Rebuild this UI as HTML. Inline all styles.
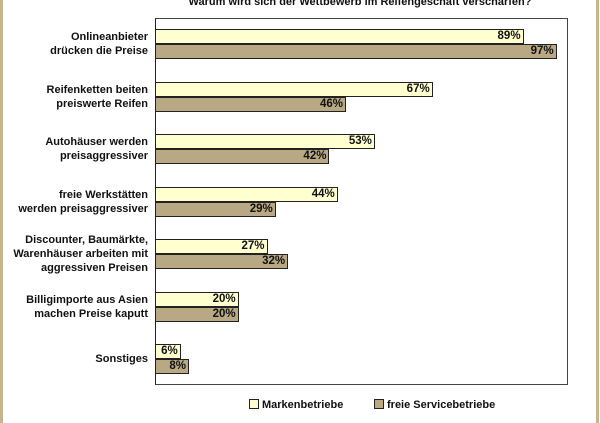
<!DOCTYPE html>
<html><head><meta charset="utf-8"><style>
body{margin:0;width:600px;height:423px;overflow:hidden;background:#fff;font-family:"Liberation Sans",Arial,sans-serif;font-weight:bold;font-size:11px;color:#111}
.fl{position:absolute;top:0;height:423px;width:3px;background:#c8b48e}
.plot{position:absolute;left:155px;top:18px;width:413px;height:367px;border:1px solid #444;border-left:1.5px solid #222;box-sizing:border-box}
.bar{position:absolute;height:15px;box-sizing:border-box;border:1.5px solid #222;text-align:right;line-height:13px;padding-right:2px;font-size:11.5px}
.y{background:#ffffd0}.b{background:#b8a884}
.lab{position:absolute;right:452px;text-align:right;line-height:14px;width:160px}
.title{position:absolute;left:0;width:720px;top:-4px;text-align:center;font-size:11px}
.leg{position:absolute;top:399px;font-size:11px}
.leg i{display:inline-block;width:8px;height:8px;border:1.5px solid #222;margin-right:3px;vertical-align:-1px}
</style></head><body>
<div class="fl" style="left:0"></div><div class="fl" style="left:596px"></div>
<div class="title">Warum wird sich der Wettbewerb im Reifengeschäft verschärfen?</div>
<div class="plot"></div>
<div id="c"></div>
<div class="leg" style="left:249px"><i style="background:#ffffd0"></i>Markenbetriebe</div>
<div class="leg" style="left:374px"><i style="background:#b8a884"></i>freie Servicebetriebe</div>
<script>
var d=[["Onlineanbieter<br>drücken die Preise",89,97],["Reifenketten beiten<br>preiswerte Reifen",67,46],["Autohäuser werden<br>preisaggressiver",53,42],["freie Werkstätten<br>werden preisaggressiver",44,29],["Discounter, Baumärkte,<br>Warenhäuser arbeiten mit<br>aggressiven Preisen",27,32],["Billigimporte aus Asien<br>machen Preise kaputt",20,20],["Sonstiges",6,8]];
var h="";d.forEach(function(r,i){var t=29+i*52.5;var n=r[0].split("<br>").length;
h+='<div class="lab" style="top:'+(t+15-n*7)+'px">'+r[0]+'</div>';
h+='<div class="bar y" style="left:155px;top:'+t+'px;width:'+(r[1]*4.13+1)+'px">'+r[1]+'%</div>';
h+='<div class="bar b" style="left:155px;top:'+(t+15)+'px;width:'+(r[2]*4.13+1)+'px">'+r[2]+'%</div>';});
document.getElementById("c").innerHTML=h;
</script>
</body></html>
